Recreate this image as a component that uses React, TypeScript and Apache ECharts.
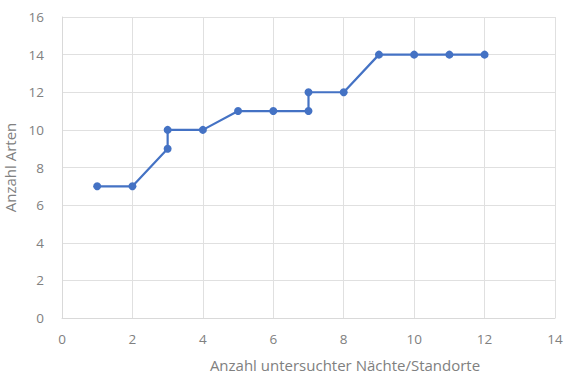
import React, { useEffect, useRef } from "react";
import * as echarts from "echarts";

// Cumulative species count per number of surveyed nights/sites
const nights = [1, 2, 3, 3, 4, 5, 6, 7, 7, 8, 9, 10, 11, 12];
const species = [7, 7, 9, 10, 10, 11, 11, 11, 12, 12, 14, 14, 14, 14];

const xTitle = "Anzahl untersuchter Nächte/Standorte";
const yTitle = "Anzahl Arten";

export default function App() {
  const ref = useRef<HTMLDivElement>(null);

  useEffect(() => {
    if (!ref.current) return;
    const chart = echarts.init(ref.current, null, { renderer: "svg" });
    const font = "Open Sans";
    const gray = "#808080";
    chart.setOption({
      animation: false,
      backgroundColor: "#ffffff",
      grid: {
        left: 62,
        right: 9,
        top: 17,
        bottom: 58,
        containLabel: false,
        outerBoundsMode: "none",
      },
      xAxis: {
        type: "value",
        min: 0,
        max: 14,
        interval: 2,
        name: xTitle,
        nameLocation: "middle",
        nameGap: 39,
        nameTextStyle: { color: gray, fontSize: 15, fontFamily: font, padding: [0, 0, 0, 73] },
        axisLine: { show: true, lineStyle: { color: "#d9d9d9" } },
        axisTick: { show: false },
        axisLabel: { color: gray, fontSize: 13.5, fontFamily: font, margin: 14, showMaxLabel: true },
        splitLine: { show: true, lineStyle: { color: "#e0e0e0", width: 1 } },
      },
      yAxis: {
        type: "value",
        min: 0,
        max: 16,
        interval: 2,
        name: yTitle,
        nameLocation: "middle",
        nameGap: 36,
        nameTextStyle: { color: gray, fontSize: 15, fontFamily: font },
        axisLine: { show: true, lineStyle: { color: "#d9d9d9" } },
        axisTick: { show: false },
        axisLabel: { color: gray, fontSize: 13.5, fontFamily: font, margin: 18 },
        splitLine: { show: true, lineStyle: { color: "#e0e0e0", width: 1 } },
      },
      series: [
        {
          type: "line",
          data: nights.map((n, i) => [n, species[i]]),
          symbol: "circle",
          symbolSize: 8,
          lineStyle: { color: "#4472c4", width: 2.2 },
          itemStyle: { color: "#4472c4" },
        },
      ],
    });
    return () => chart.dispose();
  }, []);

  return (
    <div
      ref={ref}
      style={{ position: "fixed", left: 0, top: 0, width: 564, height: 376 }}
    />
  );
}
